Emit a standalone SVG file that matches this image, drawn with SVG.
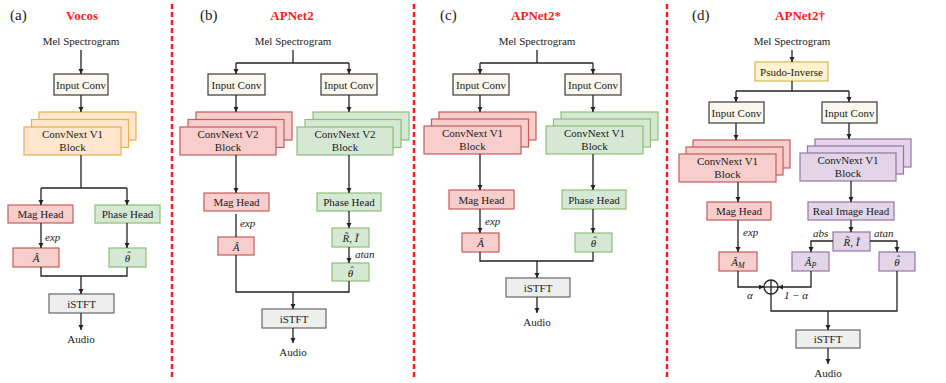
<svg xmlns="http://www.w3.org/2000/svg" width="946" height="383" viewBox="0 0 946 383" font-family="'Liberation Serif', 'DejaVu Serif', serif">
<style>
text{font-family:'Liberation Serif','DejaVu Serif',serif;font-size:11px;fill:#1a1a1a;text-anchor:middle}
.m{font-style:italic}
.s{text-anchor:start}
.lab{font-size:15px;text-anchor:start}
.ttl{font-size:13px;font-weight:bold;fill:#ff1a1a}
.ic{fill:#f9f7ee;stroke:#3a3a3a;stroke-width:1.2}
.or{fill:#ffe6cc;stroke:#e8b04f;stroke-width:1.2}
.rd{fill:#f8cecc;stroke:#c45c5a;stroke-width:1.2}
.gr{fill:#d5e8d4;stroke:#8fbf73;stroke-width:1.2}
.pu{fill:#e1d5e7;stroke:#9673a6;stroke-width:1.2}
.ye{fill:#fff2cc;stroke:#d6b656;stroke-width:1.2}
.gy{fill:#eeeeee;stroke:#666666;stroke-width:1.2}
.ln{fill:none;stroke:#222;stroke-width:1.3}
.ar{fill:none;stroke:#222;stroke-width:1.3;marker-end:url(#ah)}
.sep{stroke:#ff1a1a;stroke-width:2.5;stroke-dasharray:5 3}
</style>
<defs>
<marker id="ah" markerUnits="userSpaceOnUse" markerWidth="6" markerHeight="6" refX="5" refY="2.5" orient="auto">
<path d="M0,0 L5,2.5 L0,5 z" fill="#222"/>
</marker>
</defs>

<g id="separators">
<line class="sep" x1="172" y1="4" x2="172" y2="380"/>
<line class="sep" x1="414" y1="4" x2="414" y2="380"/>
<line class="sep" x1="667" y1="4" x2="667" y2="380"/>
</g>

<!-- Panel (a) -->
<g id="a-labels">
<text class="lab" x="10" y="20">(a)</text>
<text class="ttl" x="82" y="20">Vocos</text>
<text x="81" y="45">Mel Spectrogram</text>
<text x="81" y="343">Audio</text>
</g>
<g id="a-inputconv"><rect class="ic" x="54" y="74" width="54" height="21"/><text x="81" y="88.5">Input Conv</text></g>
<g id="a-convnext">
<rect class="or" x="39" y="112" width="97" height="28"/>
<rect class="or" x="31.5" y="119.5" width="97" height="28"/>
<rect class="or" x="24" y="127" width="97" height="28"/>
<text x="72.5" y="138">ConvNext V1</text><text x="72.5" y="151">Block</text>
</g>
<g id="a-maghead"><rect class="rd" x="8" y="205" width="65" height="18"/><text x="40.5" y="218">Mag Head</text></g>
<g id="a-phasehead"><rect class="gr" x="95" y="205" width="65" height="18"/><text x="127.5" y="218">Phase Head</text></g>
<g id="a-amp"><rect class="rd" x="13" y="248" width="46" height="19"/><text class="m" x="36" y="262">Â</text></g>
<g id="a-phase"><rect class="gr" x="109" y="248" width="37" height="19"/><text class="m" x="127.5" y="262">θ<tspan dx="-3.8" dy="-3">ˆ</tspan></text></g>
<g id="a-istft"><rect class="gy" x="49" y="294" width="65" height="19"/><text x="81.5" y="307.5">iSTFT</text></g>
<g id="a-connectors">
<line class="ar" x1="81" y1="50" x2="81" y2="74"/>
<line class="ar" x1="81" y1="95" x2="81" y2="112"/>
<line class="ln" x1="81" y1="155" x2="81" y2="188"/>
<line class="ln" x1="41" y1="188" x2="127" y2="188"/>
<line class="ar" x1="41" y1="188" x2="41" y2="205"/>
<line class="ar" x1="127" y1="188" x2="127" y2="205"/>
<line class="ar" x1="41" y1="223" x2="41" y2="248"/>
<text class="m s" x="45" y="241">exp</text>
<line class="ar" x1="127" y1="223" x2="127" y2="248"/>
<path class="ln" d="M41,267 V276 H127 V267"/>
<line class="ar" x1="81" y1="276" x2="81" y2="294"/>
<line class="ar" x1="81" y1="313" x2="81" y2="330"/>
</g>

<!-- Panel (b) -->
<g id="b-labels">
<text class="lab" x="200" y="20">(b)</text>
<text class="ttl" x="292" y="20">APNet2</text>
<text x="293" y="45">Mel Spectrogram</text>
<text x="293" y="356">Audio</text>
</g>
<g id="b-inputconv-l"><rect class="ic" x="208" y="74" width="57" height="21"/><text x="236.5" y="88.5">Input Conv</text></g>
<g id="b-inputconv-r"><rect class="ic" x="321" y="74" width="56" height="21"/><text x="349" y="88.5">Input Conv</text></g>
<g id="b-convnext-l">
<rect class="rd" x="196" y="112" width="96" height="28"/>
<rect class="rd" x="188" y="119.5" width="96" height="28"/>
<rect class="rd" x="180" y="127" width="96" height="28"/>
<text x="228" y="138">ConvNext V2</text><text x="228" y="151">Block</text>
</g>
<g id="b-convnext-r">
<rect class="gr" x="313" y="112" width="96" height="28"/>
<rect class="gr" x="305" y="119.5" width="96" height="28"/>
<rect class="gr" x="297" y="127" width="96" height="28"/>
<text x="345" y="138">ConvNext V2</text><text x="345" y="151">Block</text>
</g>
<g id="b-maghead"><rect class="rd" x="204" y="193" width="65" height="18"/><text x="236.5" y="206">Mag Head</text></g>
<g id="b-phasehead"><rect class="gr" x="317" y="193" width="64" height="18"/><text x="349" y="206">Phase Head</text></g>
<g id="b-amp"><rect class="rd" x="218" y="237" width="36" height="18"/><text class="m" x="236" y="250.5">Â</text></g>
<g id="b-ri"><rect class="gr" x="332" y="228" width="37" height="19"/><text class="m" x="350.5" y="242">R̃, Ĩ</text></g>
<g id="b-phase"><rect class="gr" x="332" y="263" width="37" height="18"/><text class="m" x="350.5" y="276.5">θ<tspan dx="-3.8" dy="-3">ˆ</tspan></text></g>
<g id="b-istft"><rect class="gy" x="262" y="309" width="64" height="19"/><text x="294" y="322.5">iSTFT</text></g>
<g id="b-connectors">
<line class="ln" x1="293" y1="50" x2="293" y2="63"/>
<line class="ln" x1="236" y1="63" x2="349" y2="63"/>
<line class="ar" x1="236" y1="63" x2="236" y2="74"/>
<line class="ar" x1="349" y1="63" x2="349" y2="74"/>
<line class="ar" x1="236" y1="95" x2="236" y2="112"/>
<line class="ar" x1="349" y1="95" x2="349" y2="112"/>
<line class="ar" x1="236" y1="155" x2="236" y2="193"/>
<line class="ar" x1="349" y1="155" x2="349" y2="193"/>
<line class="ln" x1="236" y1="214" x2="236" y2="237"/>
<text class="m s" x="240" y="227">exp</text>
<line class="ar" x1="349" y1="211" x2="349" y2="228"/>
<line class="ar" x1="349" y1="247" x2="349" y2="263"/>
<text class="m s" x="355" y="258">atan</text>
<path class="ln" d="M236,255 V292 H349 V281"/>
<line class="ar" x1="293" y1="292" x2="293" y2="309"/>
<line class="ar" x1="293" y1="328" x2="293" y2="343"/>
</g>

<!-- Panel (c) -->
<g id="c-labels">
<text class="lab" x="440" y="20">(c)</text>
<text class="ttl" x="536" y="20">APNet2*</text>
<text x="537" y="45">Mel Spectrogram</text>
<text x="537" y="326">Audio</text>
</g>
<g id="c-inputconv-l"><rect class="ic" x="453" y="74" width="56" height="21"/><text x="481" y="88.5">Input Conv</text></g>
<g id="c-inputconv-r"><rect class="ic" x="565" y="74" width="56" height="21"/><text x="593" y="88.5">Input Conv</text></g>
<g id="c-convnext-l">
<rect class="rd" x="439" y="112" width="97" height="28"/>
<rect class="rd" x="431.5" y="119" width="97" height="28"/>
<rect class="rd" x="424" y="126" width="97" height="28"/>
<text x="472.5" y="137">ConvNext V1</text><text x="472.5" y="150">Block</text>
</g>
<g id="c-convnext-r">
<rect class="gr" x="561" y="112" width="97" height="28"/>
<rect class="gr" x="553.5" y="119" width="97" height="28"/>
<rect class="gr" x="546" y="126" width="97" height="28"/>
<text x="594.5" y="137">ConvNext V1</text><text x="594.5" y="150">Block</text>
</g>
<g id="c-maghead"><rect class="rd" x="449" y="190" width="65" height="19"/><text x="481.5" y="203.5">Mag Head</text></g>
<g id="c-phasehead"><rect class="gr" x="562" y="190" width="64" height="19"/><text x="594" y="203.5">Phase Head</text></g>
<g id="c-amp"><rect class="rd" x="462" y="233" width="37" height="19"/><text class="m" x="480.5" y="247">Â</text></g>
<g id="c-phase"><rect class="gr" x="575" y="233" width="37" height="19"/><text class="m" x="593.5" y="247">θ<tspan dx="-3.8" dy="-3">ˆ</tspan></text></g>
<g id="c-istft"><rect class="gy" x="506" y="278" width="64" height="19"/><text x="538" y="291.5">iSTFT</text></g>
<g id="c-connectors">
<line class="ln" x1="537" y1="50" x2="537" y2="63"/>
<line class="ln" x1="480" y1="63" x2="593" y2="63"/>
<line class="ar" x1="480" y1="63" x2="480" y2="74"/>
<line class="ar" x1="593" y1="63" x2="593" y2="74"/>
<line class="ar" x1="480" y1="95" x2="480" y2="112"/>
<line class="ar" x1="593" y1="95" x2="593" y2="112"/>
<line class="ar" x1="480" y1="154" x2="480" y2="190"/>
<line class="ar" x1="593" y1="154" x2="593" y2="190"/>
<line class="ar" x1="480" y1="209" x2="480" y2="233"/>
<text class="m s" x="485" y="225">exp</text>
<line class="ar" x1="593" y1="209" x2="593" y2="233"/>
<path class="ln" d="M480,252 V261 H593 V252"/>
<line class="ar" x1="537" y1="261" x2="537" y2="278"/>
<line class="ar" x1="537" y1="297" x2="537" y2="313"/>
</g>

<!-- Panel (d) -->
<g id="d-labels">
<text class="lab" x="692" y="20">(d)</text>
<text class="ttl" x="800" y="20">APNet2†</text>
<text x="792" y="45">Mel Spectrogram</text>
<text x="828" y="377">Audio</text>
</g>
<g id="d-pinv"><rect class="ye" x="755" y="62" width="73" height="19"/><text x="791.5" y="75.5">Psudo-Inverse</text></g>
<g id="d-inputconv-l"><rect class="ic" x="709" y="102" width="55" height="21"/><text x="736.5" y="116.5">Input Conv</text></g>
<g id="d-inputconv-r"><rect class="ic" x="822" y="102" width="55" height="21"/><text x="849.5" y="116.5">Input Conv</text></g>
<g id="d-convnext-l">
<rect class="rd" x="693" y="140" width="97" height="28"/>
<rect class="rd" x="686" y="147" width="97" height="28"/>
<rect class="rd" x="679" y="154" width="97" height="28"/>
<text x="727.5" y="165">ConvNext V1</text><text x="727.5" y="178">Block</text>
</g>
<g id="d-convnext-r">
<rect class="pu" x="815" y="139" width="96" height="28"/>
<rect class="pu" x="807.5" y="146" width="96" height="28"/>
<rect class="pu" x="800" y="153" width="96" height="28"/>
<text x="848" y="164">ConvNext V1</text><text x="848" y="177">Block</text>
</g>
<g id="d-maghead"><rect class="rd" x="707" y="202" width="64" height="18"/><text x="739" y="215">Mag Head</text></g>
<g id="d-rihead"><rect class="pu" x="808" y="202" width="86" height="18"/><text x="851" y="215">Real Image Head</text></g>
<g id="d-ri"><rect class="pu" x="833" y="232" width="37" height="19"/><text class="m" x="851.5" y="246">R̃, Ĩ</text></g>
<g id="d-am"><rect class="rd" x="719" y="252" width="38" height="19"/><text class="m" x="738" y="266">Â<tspan font-size="8" dy="2">M</tspan></text></g>
<g id="d-ap"><rect class="pu" x="792" y="252" width="37" height="19"/><text class="m" x="810.5" y="266">Â<tspan font-size="8" dy="2">P</tspan></text></g>
<g id="d-phase"><rect class="pu" x="879" y="252" width="36" height="19"/><text class="m" x="897" y="266">θ<tspan dx="-3.8" dy="-3">ˆ</tspan></text></g>
<g id="d-sum">
<circle cx="771" cy="287" r="7" fill="none" stroke="#222" stroke-width="1.3"/>
<line class="ln" x1="764" y1="287" x2="778" y2="287"/>
<line class="ln" x1="771" y1="280" x2="771" y2="294"/>
</g>
<g id="d-istft"><rect class="gy" x="796" y="330" width="64" height="18"/><text x="828" y="343">iSTFT</text></g>
<g id="d-connectors">
<line class="ar" x1="792" y1="50" x2="792" y2="62"/>
<line class="ln" x1="792" y1="81" x2="792" y2="91"/>
<line class="ln" x1="736" y1="91" x2="849" y2="91"/>
<line class="ar" x1="736" y1="91" x2="736" y2="102"/>
<line class="ar" x1="849" y1="91" x2="849" y2="102"/>
<line class="ar" x1="736" y1="123" x2="736" y2="140"/>
<line class="ar" x1="849" y1="123" x2="849" y2="139"/>
<line class="ar" x1="738" y1="182" x2="738" y2="202"/>
<line class="ar" x1="851" y1="181" x2="851" y2="202"/>
<line class="ar" x1="738" y1="220" x2="738" y2="252"/>
<text class="m s" x="743" y="236">exp</text>
<line class="ar" x1="851" y1="220" x2="851" y2="232"/>
<path class="ar" d="M833,241 H811 V252"/>
<text class="m s" x="813" y="237">abs</text>
<path class="ar" d="M870,241 H897 V252"/>
<text class="m s" x="874" y="237">atan</text>
<path class="ar" d="M738,271 V287 H764"/>
<path class="ar" d="M811,271 V287 H778"/>
<text class="m" x="750" y="299">α</text>
<text class="m" x="796" y="299">1 − α</text>
<path class="ln" d="M771,294 V311 H897 V271"/>
<line class="ar" x1="828" y1="311" x2="828" y2="330"/>
<line class="ar" x1="828" y1="348" x2="828" y2="364"/>
</g>
</svg>
